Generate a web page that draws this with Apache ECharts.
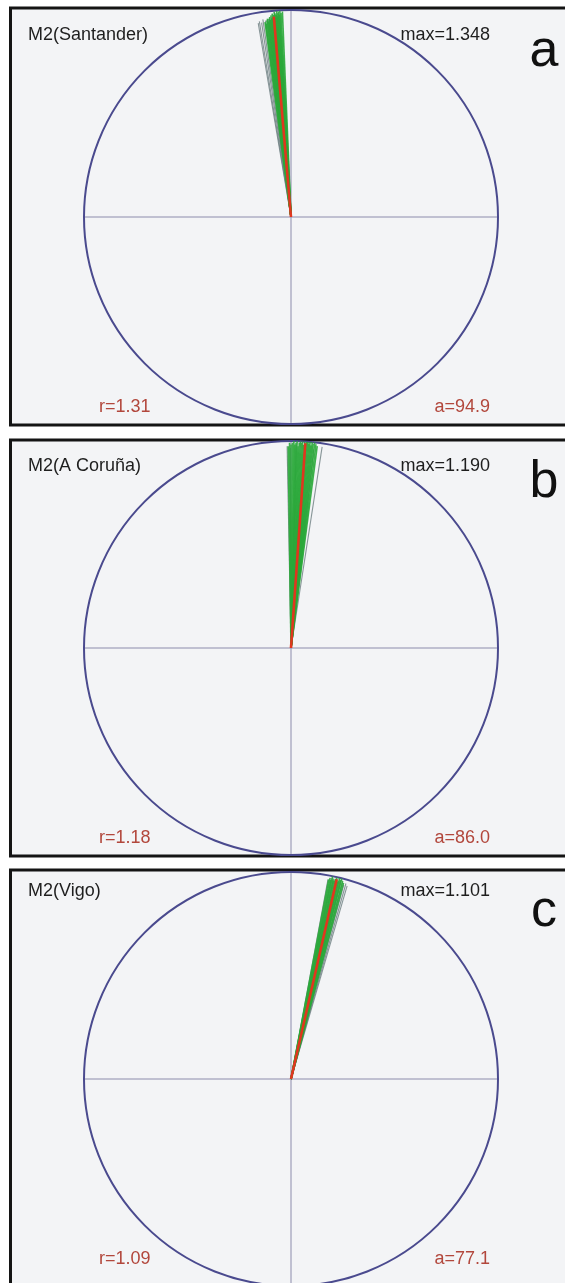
<!DOCTYPE html>
<html>
<head>
<meta charset="utf-8">
<script src="https://cdn.jsdelivr.net/npm/echarts@6/dist/echarts.min.js"></script>
<style>
html,body{margin:0;padding:0;background:#fff;}
#main{width:565px;height:1283px;}
</style>
</head>
<body>
<div id="main"></div>
<script>
// ---- data ----
const panelNames = ['M2(Santander)', 'M2(A Coruña)', 'M2(Vigo)'];
const panelLetters = ['a', 'b', 'c'];
const maxVals = [1.348, 1.190, 1.101];
const meanR = [1.31, 1.18, 1.09];
const meanA = [94.9, 86.0, 77.1];

const aGreenAng = [92.4, 92.8, 93.1, 93.3, 93.5, 93.7, 93.9, 94.0, 94.2, 94.4, 94.5, 94.7, 94.9, 95.1, 95.3, 95.5, 95.7, 95.9, 96.1, 96.3, 96.5, 96.8, 97.0, 97.3, 97.6];
const aGreenLen = [1.34, 1.33, 1.345, 1.32, 1.34, 1.33, 1.31, 1.345, 1.32, 1.30, 1.33, 1.34, 1.32, 1.31, 1.33, 1.30, 1.32, 1.29, 1.31, 1.30, 1.28, 1.30, 1.29, 1.27, 1.28];
const aGrayAng = [96.6, 97.4, 98.1, 98.6, 99.2, 99.6];
const aGrayLen = [1.30, 1.29, 1.30, 1.28, 1.29, 1.28];

const bGreenAng = [82.6, 83.0, 83.4, 83.8, 84.1, 84.4, 84.7, 85.0, 85.3, 85.6, 85.9, 86.2, 86.5, 86.8, 87.1, 87.4, 87.7, 88.0, 88.3, 88.6, 88.9, 89.2, 89.6, 90.0, 90.4, 90.8];
const bGreenLen = [1.17, 1.18, 1.19, 1.18, 1.19, 1.17, 1.19, 1.18, 1.19, 1.19, 1.18, 1.19, 1.17, 1.19, 1.18, 1.19, 1.18, 1.16, 1.19, 1.18, 1.17, 1.19, 1.18, 1.17, 1.18, 1.16];
const bGrayAng = [81.2, 83.5, 86.0, 88.5, 90.2, 91.1];
const bGrayLen = [1.17, 1.15, 1.16, 1.17, 1.15, 1.16];

const cGreenAng = [75.0, 75.4, 75.8, 76.1, 76.4, 76.7, 77.0, 77.2, 77.5, 77.8, 78.1, 78.4, 78.7, 79.0, 79.3];
const cGreenLen = [1.08, 1.09, 1.10, 1.09, 1.10, 1.08, 1.09, 1.10, 1.09, 1.08, 1.09, 1.10, 1.08, 1.09, 1.08];
const cGrayAng = [73.8, 74.3, 74.8, 75.3, 75.9, 76.5, 77.3, 78.0, 78.6, 79.5];
const cGrayLen = [1.07, 1.08, 1.07, 1.08, 1.09, 1.08, 1.09, 1.08, 1.09, 1.08];

const greenAng = [aGreenAng, bGreenAng, cGreenAng];
const greenLen = [aGreenLen, bGreenLen, cGreenLen];
const grayAng = [aGrayAng, bGrayAng, cGrayAng];
const grayLen = [aGrayLen, bGrayLen, cGrayLen];

// ---- layout ----
const CX = 291, R = 207;
const centerY = [217, 648, 1079];
const frameTop = [8, 440, 870];
const frameBot = [425, 856, 1300];
const titleY = [35, 466, 891];
const bottomY = [407, 838, 1259];
const letterY = [52, 483, 912];

const FONT = '"Liberation Sans", Arial, sans-serif';

const polar = [], angleAxis = [], radiusAxis = [], series = [], graphic = [];

for (let p = 0; p < 3; p++) {
  polar.push({ center: [CX, centerY[p]], radius: R });
  angleAxis.push({
    polarIndex: p, type: 'value', min: 0, max: 360, interval: 90,
    startAngle: 0, clockwise: false,
    axisLine: { show: true, lineStyle: { color: '#4a4a8e', width: 2 } },
    axisTick: { show: false }, axisLabel: { show: false },
    splitLine: { show: true, lineStyle: { color: '#8c8cac', width: 1 } }
  });
  radiusAxis.push({
    polarIndex: p, type: 'value', min: 0, max: maxVals[p],
    axisLine: { show: false }, axisTick: { show: false }, axisLabel: { show: false },
    splitLine: { show: false }
  });

  const mk = (r, a, color, width, opacity) => ({
    type: 'line', coordinateSystem: 'polar', polarIndex: p,
    data: [[0, a], [r, a]], symbol: 'none', silent: true, animation: false,
    clip: false,
    lineStyle: { color: color, width: width, opacity: opacity }
  });
  for (let i = 0; i < grayAng[p].length; i++) series.push(mk(grayLen[p][i], grayAng[p][i], '#6b7d80', 1.1, 0.8));
  for (let i = 0; i < greenAng[p].length; i++) series.push(mk(greenLen[p][i], greenAng[p][i], '#2aa83a', 1.6, 0.9));
  series.push(mk(meanR[p], meanA[p], '#e0361e', 2.6, 1));

  graphic.push({
    type: 'rect', z: -10,
    shape: { x: 10.5, y: frameTop[p], width: 570, height: frameBot[p] - frameTop[p] },
    style: { fill: '#f3f4f6', stroke: '#141414', lineWidth: 3 }
  });
  graphic.push({ type: 'text', z: 10, style: { x: 28, y: titleY[p], text: panelNames[p], font: '18px ' + FONT, fill: '#1e1e1e', textAlign: 'left', textVerticalAlign: 'middle' } });
  graphic.push({ type: 'text', z: 10, style: { x: 490, y: titleY[p], text: 'max=' + maxVals[p].toFixed(3), font: '18px ' + FONT, fill: '#1e1e1e', textAlign: 'right', textVerticalAlign: 'middle' } });
  graphic.push({ type: 'text', z: 10, style: { x: 544, y: letterY[p], text: panelLetters[p], font: '52px ' + FONT, fill: '#111', textAlign: 'center', textVerticalAlign: 'middle' } });
  graphic.push({ type: 'text', z: 10, style: { x: 99, y: bottomY[p], text: 'r=' + meanR[p].toFixed(2), font: '18px ' + FONT, fill: '#b2473c', textAlign: 'left', textVerticalAlign: 'middle' } });
  graphic.push({ type: 'text', z: 10, style: { x: 490, y: bottomY[p], text: 'a=' + meanA[p].toFixed(1), font: '18px ' + FONT, fill: '#b2473c', textAlign: 'right', textVerticalAlign: 'middle' } });
}

const chart = echarts.init(document.getElementById('main'), null, { renderer: 'canvas' });
chart.setOption({
  backgroundColor: '#ffffff',
  animation: false,
  polar: polar,
  angleAxis: angleAxis,
  radiusAxis: radiusAxis,
  graphic: graphic,
  series: series
});
</script>
</body>
</html>
